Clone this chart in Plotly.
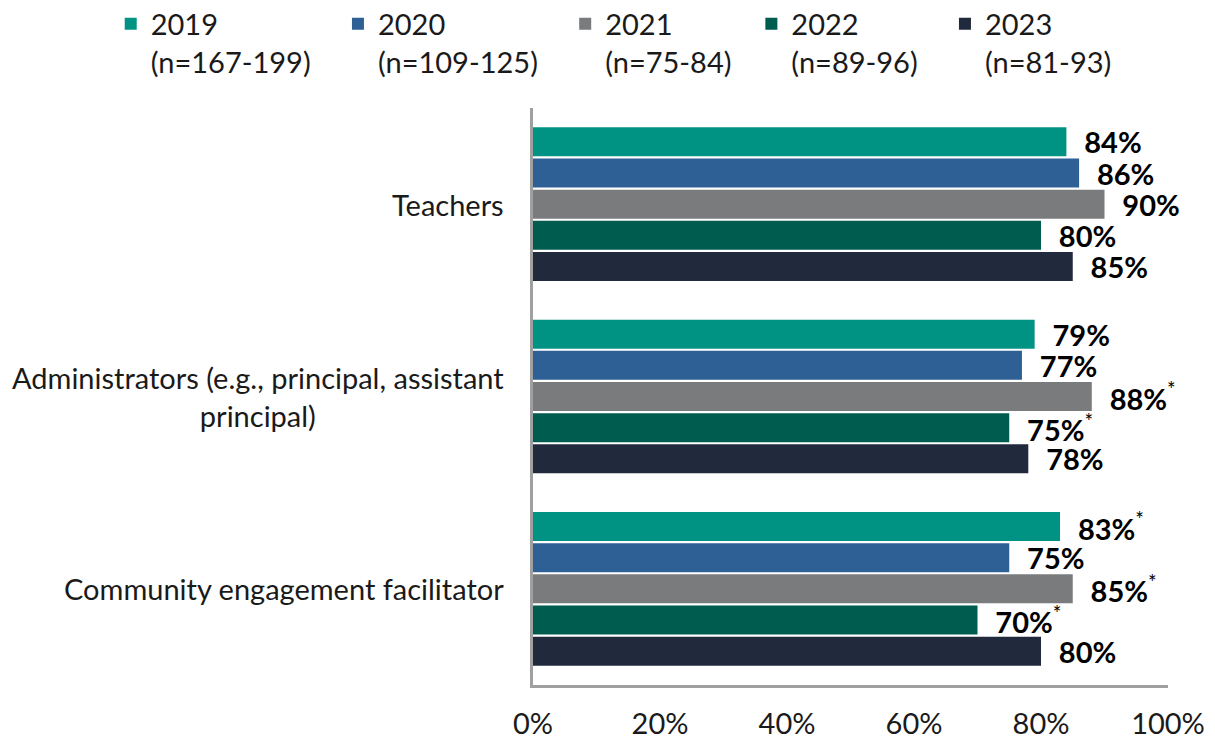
import plotly.graph_objects as go

categories = ["Teachers", "Administrators (e.g., principal, assistant<br>principal)",
              "Community engagement facilitator"]
years = ["2019", "2020", "2021", "2022", "2023"]
sample_sizes = ["(n=167-199)", "(n=109-125)", "(n=75-84)", "(n=89-96)", "(n=81-93)"]
values = {
    "2019": [84, 79, 83],
    "2020": [86, 77, 75],
    "2021": [90, 88, 85],
    "2022": [80, 75, 70],
    "2023": [85, 78, 80],
}
# asterisk marks on the value labels
flags = {
    "2019": [False, False, True],
    "2020": [False, False, False],
    "2021": [False, True, True],
    "2022": [False, True, True],
    "2023": [False, False, False],
}
colors = ["#009384", "#2E6096", "#7A7B7D", "#005C4F", "#21293C"]

FONT = "Lato"
legend_pad = [3, 3, 2, 3, 0]  # nbsp after each legend entry, for spacing

fig = go.Figure()
for yr, n, col, pad in zip(years, sample_sizes, colors, legend_pad):
    labels = ["  <b>%d%%</b>%s" % (v, "<sup>*</sup>" if f else "")
              for v, f in zip(values[yr], flags[yr])]
    fig.add_trace(go.Bar(
        y=categories, x=[v / 100 for v in values[yr]], orientation="h",
        name=f"{yr}<br>{n}" + "\u00a0" * pad, marker_color=col,
        marker_line_width=0,
        text=labels, textposition="outside", cliponaxis=False,
        constraintext="none",
        textfont=dict(family=FONT, size=29, color="#000000"),
    ))

for c in categories:
    fig.add_annotation(x=-0.042, y=c, xref="paper", yref="y", text=c,
                       showarrow=False, xanchor="right", align="center",
                       font=dict(family=FONT, size=29, color="#1a1a1a"))

# page body has an 8px margin, so the figure is drawn 8px smaller
fig.update_layout(
    width=1207, height=732,
    margin=dict(l=525, r=47, t=100, b=55, autoexpand=False),
    paper_bgcolor="white", plot_bgcolor="white",
    barmode="group", bargap=0.19, bargroupgap=0.07,
    font=dict(family=FONT, size=29, color="#1a1a1a"),
    showlegend=True,
    legend=dict(orientation="h", x=-0.665, y=1.19, xanchor="left",
                yanchor="top", valign="top", traceorder="normal",
                font=dict(family=FONT, size=29, color="#1a1a1a")),
    xaxis=dict(range=[0, 1], tickformat=".0%", dtick=0.2, showgrid=False,
               showline=True, linecolor="#A0A0A0", linewidth=2.5,
               ticks="outside", ticklen=11, tickcolor="rgba(0,0,0,0)",
               zeroline=False),
    yaxis=dict(autorange="reversed", showticklabels=False, showgrid=False,
               showline=True, linecolor="#A0A0A0", linewidth=2.5),
)

fig.write_html("out.html")
